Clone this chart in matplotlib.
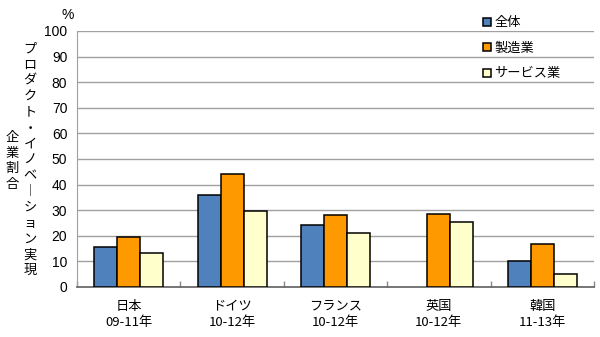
import matplotlib
matplotlib.use("Agg")
import matplotlib.pyplot as plt
import numpy as np

# Share of firms realising product innovation (%)
countries = ["日本", "ドイツ", "フランス", "英国", "韓国"]
periods = ["09-11年", "10-12年", "10-12年", "10-12年", "11-13年"]
series_names = ["全体", "製造業", "サービス業"]
total = [15.7, 35.8, 24.1, np.nan, 10.3]
manufacturing = [19.6, 44.0, 28.3, 28.4, 16.9]
services = [13.1, 29.7, 21.2, 25.5, 5.2]
yticks = [0, 10, 20, 30, 40, 50, 60, 70, 80, 90, 100]

colors = ["#4F81BD", "#FF9900", "#FFFFCC"]
jp = ["Noto Sans CJK JP", "DejaVu Sans"]
num = ["Liberation Sans", "DejaVu Sans"]

fig = plt.figure(figsize=(6.0, 3.37), dpi=100)
ax = fig.add_axes([77 / 600, 1 - 287 / 337, 517 / 600, 256 / 337])

x = np.arange(len(countries))
w = 0.222
handles = []
for i, (vals, c, name) in enumerate(zip([total, manufacturing, services], colors, series_names)):
    h = ax.bar(x + (i - 1) * w, vals, w, color=c, edgecolor="black", linewidth=1.1,
               label=name, zorder=3)
    handles.append(h)

ax.set_xlim(-0.5, len(countries) - 0.5)
ax.set_ylim(0, 100)
ax.set_yticks(yticks)
ax.set_yticklabels([str(v) for v in yticks], family=num, fontsize=10)
ax.yaxis.grid(True, color="#A0A0A0", linewidth=1.0, zorder=0)
ax.tick_params(axis="y", length=0, pad=7)

# category separators on the baseline
ax.set_xticks(np.arange(len(countries) + 1) - 0.5, minor=False)
ax.set_xticklabels([])
ax.tick_params(axis="x", direction="in", length=4, color="#888888", width=1)

for s in ["top", "right"]:
    ax.spines[s].set_visible(False)
ax.spines["left"].set_color("#A0A0A0")
ax.spines["bottom"].set_color("#606060")
ax.spines["bottom"].set_linewidth(1.2)

for xi, (c, p) in enumerate(zip(countries, periods)):
    ax.text(xi, -0.075, c, transform=ax.get_xaxis_transform(), ha="center", va="center",
            family=jp, fontsize=9.5)
    ax.text(xi, -0.14, p, transform=ax.get_xaxis_transform(), ha="center", va="center",
            family=jp, fontsize=9.5)

fig.text(68 / 600, 1 - 15 / 337, "%", ha="center", va="center", family=num, fontsize=10)

# vertical y-axis title, one character per line
title1 = "プロダクト・イノベ︱ション実現"
title2 = "企業割合"
fig.text(30 / 600, 1 - 160 / 337, "\n".join(title1), ha="center", va="center",
         family=jp, fontsize=9.5, linespacing=1.28)
fig.text(12 / 600, 1 - 161 / 337, "\n".join(title2), ha="center", va="center",
         family=jp, fontsize=9.5, linespacing=1.28)

leg = ax.legend(handles=handles, loc="upper left", bbox_to_anchor=(478 / 600, 1 - 11 / 337),
                bbox_transform=fig.transFigure, frameon=False, prop={"family": jp, "size": 9.5},
                handlelength=0.55, handleheight=0.55, handletextpad=0.3, labelspacing=0.95,
                borderaxespad=0)

fig.savefig("out.png", dpi=100)
